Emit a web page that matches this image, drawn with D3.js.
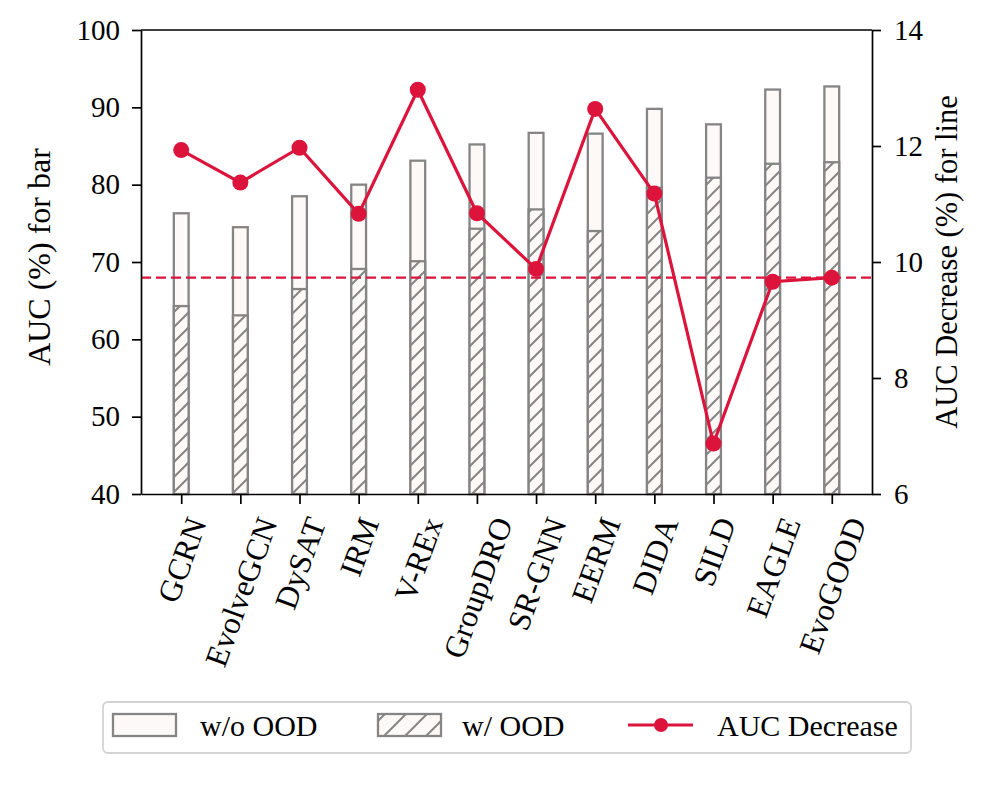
<!DOCTYPE html>
<meta charset="utf-8">
<style>
body { margin: 0; background: #fff; }
svg text { font-family: "Liberation Serif", "DejaVu Serif", serif !important; fill: #000; }
.axis path, .axis line { stroke: #000; stroke-width: 1.7px; }
.axis text { font-size: 29px; }
.bar { stroke: #858585; stroke-width: 2.3px; }
</style>
<body>
<script src="https://d3js.org/d3.v7.min.js"></script>
<script>
// data
const methods = ["GCRN", "EvolveGCN", "DySAT", "IRM", "V-REx", "GroupDRO", "SR-GNN", "EERM", "DIDA", "SILD", "EAGLE", "EvoGOOD"];
const woOOD = [76.3, 74.5, 78.5, 80.0, 83.1, 85.2, 86.7, 86.6, 89.8, 87.8, 92.3, 92.7];
const wOOD = [64.3, 63.1, 66.5, 69.1, 70.1, 74.3, 76.8, 74.0, 79.6, 80.9, 82.7, 82.9];
const aucDecrease = [11.93, 11.37, 11.97, 10.83, 12.97, 10.84, 9.88, 12.64, 11.18, 6.87, 9.66, 9.73];
const refLine = 9.73;
const leftTicks = [40, 50, 60, 70, 80, 90, 100];
const rightTicks = [6, 8, 10, 12, 14];
const legendLabels = ["w/o OOD", "w/ OOD", "AUC Decrease"];

const width = 997, height = 797;
const margin = {top: 30, right: 125, bottom: 303, left: 141};
const innerW = width - margin.left - margin.right;
const innerH = height - margin.top - margin.bottom;
const red = "#dc143c", barFill = "#fdf9f9", grey = "#858585";
const serif = "'Liberation Serif', 'DejaVu Serif', serif";

const svg = d3.select("body").append("svg")
  .attr("width", width)
  .attr("height", height)
  .attr("font-family", serif);

// hatch patterns (bars and legend)
const defs = svg.append("defs");
function hatch(id, s) {
  const p = defs.append("pattern")
    .attr("id", id)
    .attr("patternUnits", "userSpaceOnUse")
    .attr("width", s).attr("height", s);
  p.append("rect").attr("width", s).attr("height", s).attr("fill", barFill);
  p.append("path")
    .attr("d", `M0,${s} L${s},0 M${-s/4},${s/4} L${s/4},${-s/4} M${s*3/4},${s*5/4} L${s*5/4},${s*3/4}`)
    .attr("stroke", grey).attr("stroke-width", 2);
}
hatch("hatchBar", 15);
hatch("hatchLeg", 21);

const g = svg.append("g").attr("transform", `translate(${margin.left},${margin.top})`);

const x = d3.scaleLinear().domain([-0.68, methods.length - 1 + 0.68]).range([0, innerW]);
const y = d3.scaleLinear().domain([40, 100]).range([innerH, 0]);
const y2 = d3.scaleLinear().domain([6, 14]).range([innerH, 0]);
const barW = x(0.25) - x(0);

const rows = methods.map((m, i) => ({m: m, i: i, wo: woOOD[i], w: wOOD[i], dec: aucDecrease[i]}));

// bars w/o OOD
g.selectAll(".bar-wo").data(rows).enter().append("rect")
  .attr("class", "bar bar-wo")
  .attr("x", d => x(d.i) - barW / 2)
  .attr("width", barW)
  .attr("y", d => y(d.wo))
  .attr("height", d => y(40) - y(d.wo))
  .attr("fill", barFill);

// bars w/ OOD (hatched)
g.selectAll(".bar-w").data(rows).enter().append("rect")
  .attr("class", "bar bar-w")
  .attr("x", d => x(d.i) - barW / 2)
  .attr("width", barW)
  .attr("y", d => y(d.w))
  .attr("height", d => y(40) - y(d.w))
  .attr("fill", "url(#hatchBar)");

// dashed reference
g.append("line")
  .attr("x1", 0).attr("x2", innerW)
  .attr("y1", y2(refLine)).attr("y2", y2(refLine))
  .attr("stroke", red).attr("stroke-width", 2.2)
  .attr("stroke-dasharray", "10,5");

// line for AUC decrease
g.append("path")
  .datum(rows)
  .attr("fill", "none")
  .attr("stroke", red)
  .attr("stroke-width", 3.2)
  .attr("d", d3.line().x(d => x(d.i)).y(d => y2(d.dec)));

g.selectAll(".dot").data(rows).enter().append("circle")
  .attr("class", "dot")
  .attr("cx", d => x(d.i))
  .attr("cy", d => y2(d.dec))
  .attr("r", 8)
  .attr("fill", red);

// axes
g.append("g").attr("class", "axis")
  .call(d3.axisLeft(y).tickValues(leftTicks).tickSize(9).tickPadding(12).tickSizeOuter(0))
  .attr("font-family", serif).attr("font-size", 29);

g.append("g").attr("class", "axis")
  .attr("transform", `translate(${innerW},0)`)
  .call(d3.axisRight(y2).tickValues(rightTicks).tickSize(9).tickPadding(13).tickSizeOuter(0))
  .attr("font-family", serif).attr("font-size", 29);

const xAxis = g.append("g").attr("class", "axis")
  .attr("transform", `translate(0,${innerH})`)
  .call(d3.axisBottom(x).tickValues(d3.range(methods.length)).tickFormat(i => methods[i]).tickSize(10).tickSizeOuter(0))
  .attr("font-family", serif);

g.append("line").attr("x1", 0).attr("x2", innerW).attr("y1", 0).attr("y2", 0)
  .attr("stroke", "#000").attr("stroke-width", 1.7);

// rotated tick labels, bbox centred under the tick
const ang = 70 * Math.PI / 180;
const xfs = 31.5;
xAxis.selectAll(".tick text")
  .style("font-size", xfs + "px")
  .attr("text-anchor", "middle")
  .attr("dy", "0.35em")
  .each(function () {
    const L = this.getComputedTextLength();
    const H = L * Math.sin(ang) + 0.68 * xfs * Math.cos(ang);
    const cy = 21 + H / 2;
    d3.select(this).attr("y", 0).attr("x", 0)
      .attr("transform", `translate(0,${cy}) rotate(-70)`);
  });

// axis titles
svg.append("text")
  .attr("transform", `translate(50,${margin.top + innerH / 2 - 5}) rotate(-90)`)
  .attr("text-anchor", "middle")
  .style("font-size", "32px")
  .text("AUC (%) for bar");

svg.append("text")
  .attr("transform", `translate(957,${margin.top + innerH / 2}) rotate(-90)`)
  .attr("text-anchor", "middle")
  .style("font-size", "30.5px")
  .text("AUC Decrease (%) for line");

// legend
const leg = svg.append("g").attr("transform", "translate(103,702)");
leg.append("rect")
  .attr("width", 808).attr("height", 51).attr("rx", 5)
  .attr("fill", "#fff").attr("stroke", "#d3d3d3").attr("stroke-width", 1.8);

leg.append("rect").attr("class", "bar")
  .attr("x", 10).attr("y", 12).attr("width", 63).attr("height", 22)
  .attr("fill", barFill);
leg.append("rect").attr("class", "bar")
  .attr("x", 275).attr("y", 12).attr("width", 63).attr("height", 22)
  .attr("fill", "url(#hatchLeg)");
leg.append("line")
  .attr("x1", 525).attr("x2", 590).attr("y1", 23).attr("y2", 23)
  .attr("stroke", red).attr("stroke-width", 3.2);
leg.append("circle").attr("cx", 558).attr("cy", 23).attr("r", 7).attr("fill", red);

const legX = [97, 359, 614];
leg.selectAll(".legtxt").data(legendLabels).enter().append("text")
  .attr("class", "legtxt")
  .attr("x", (d, i) => legX[i])
  .attr("y", 34)
  .style("font-size", "30px")
  .text(d => d);
</script>
</body>
